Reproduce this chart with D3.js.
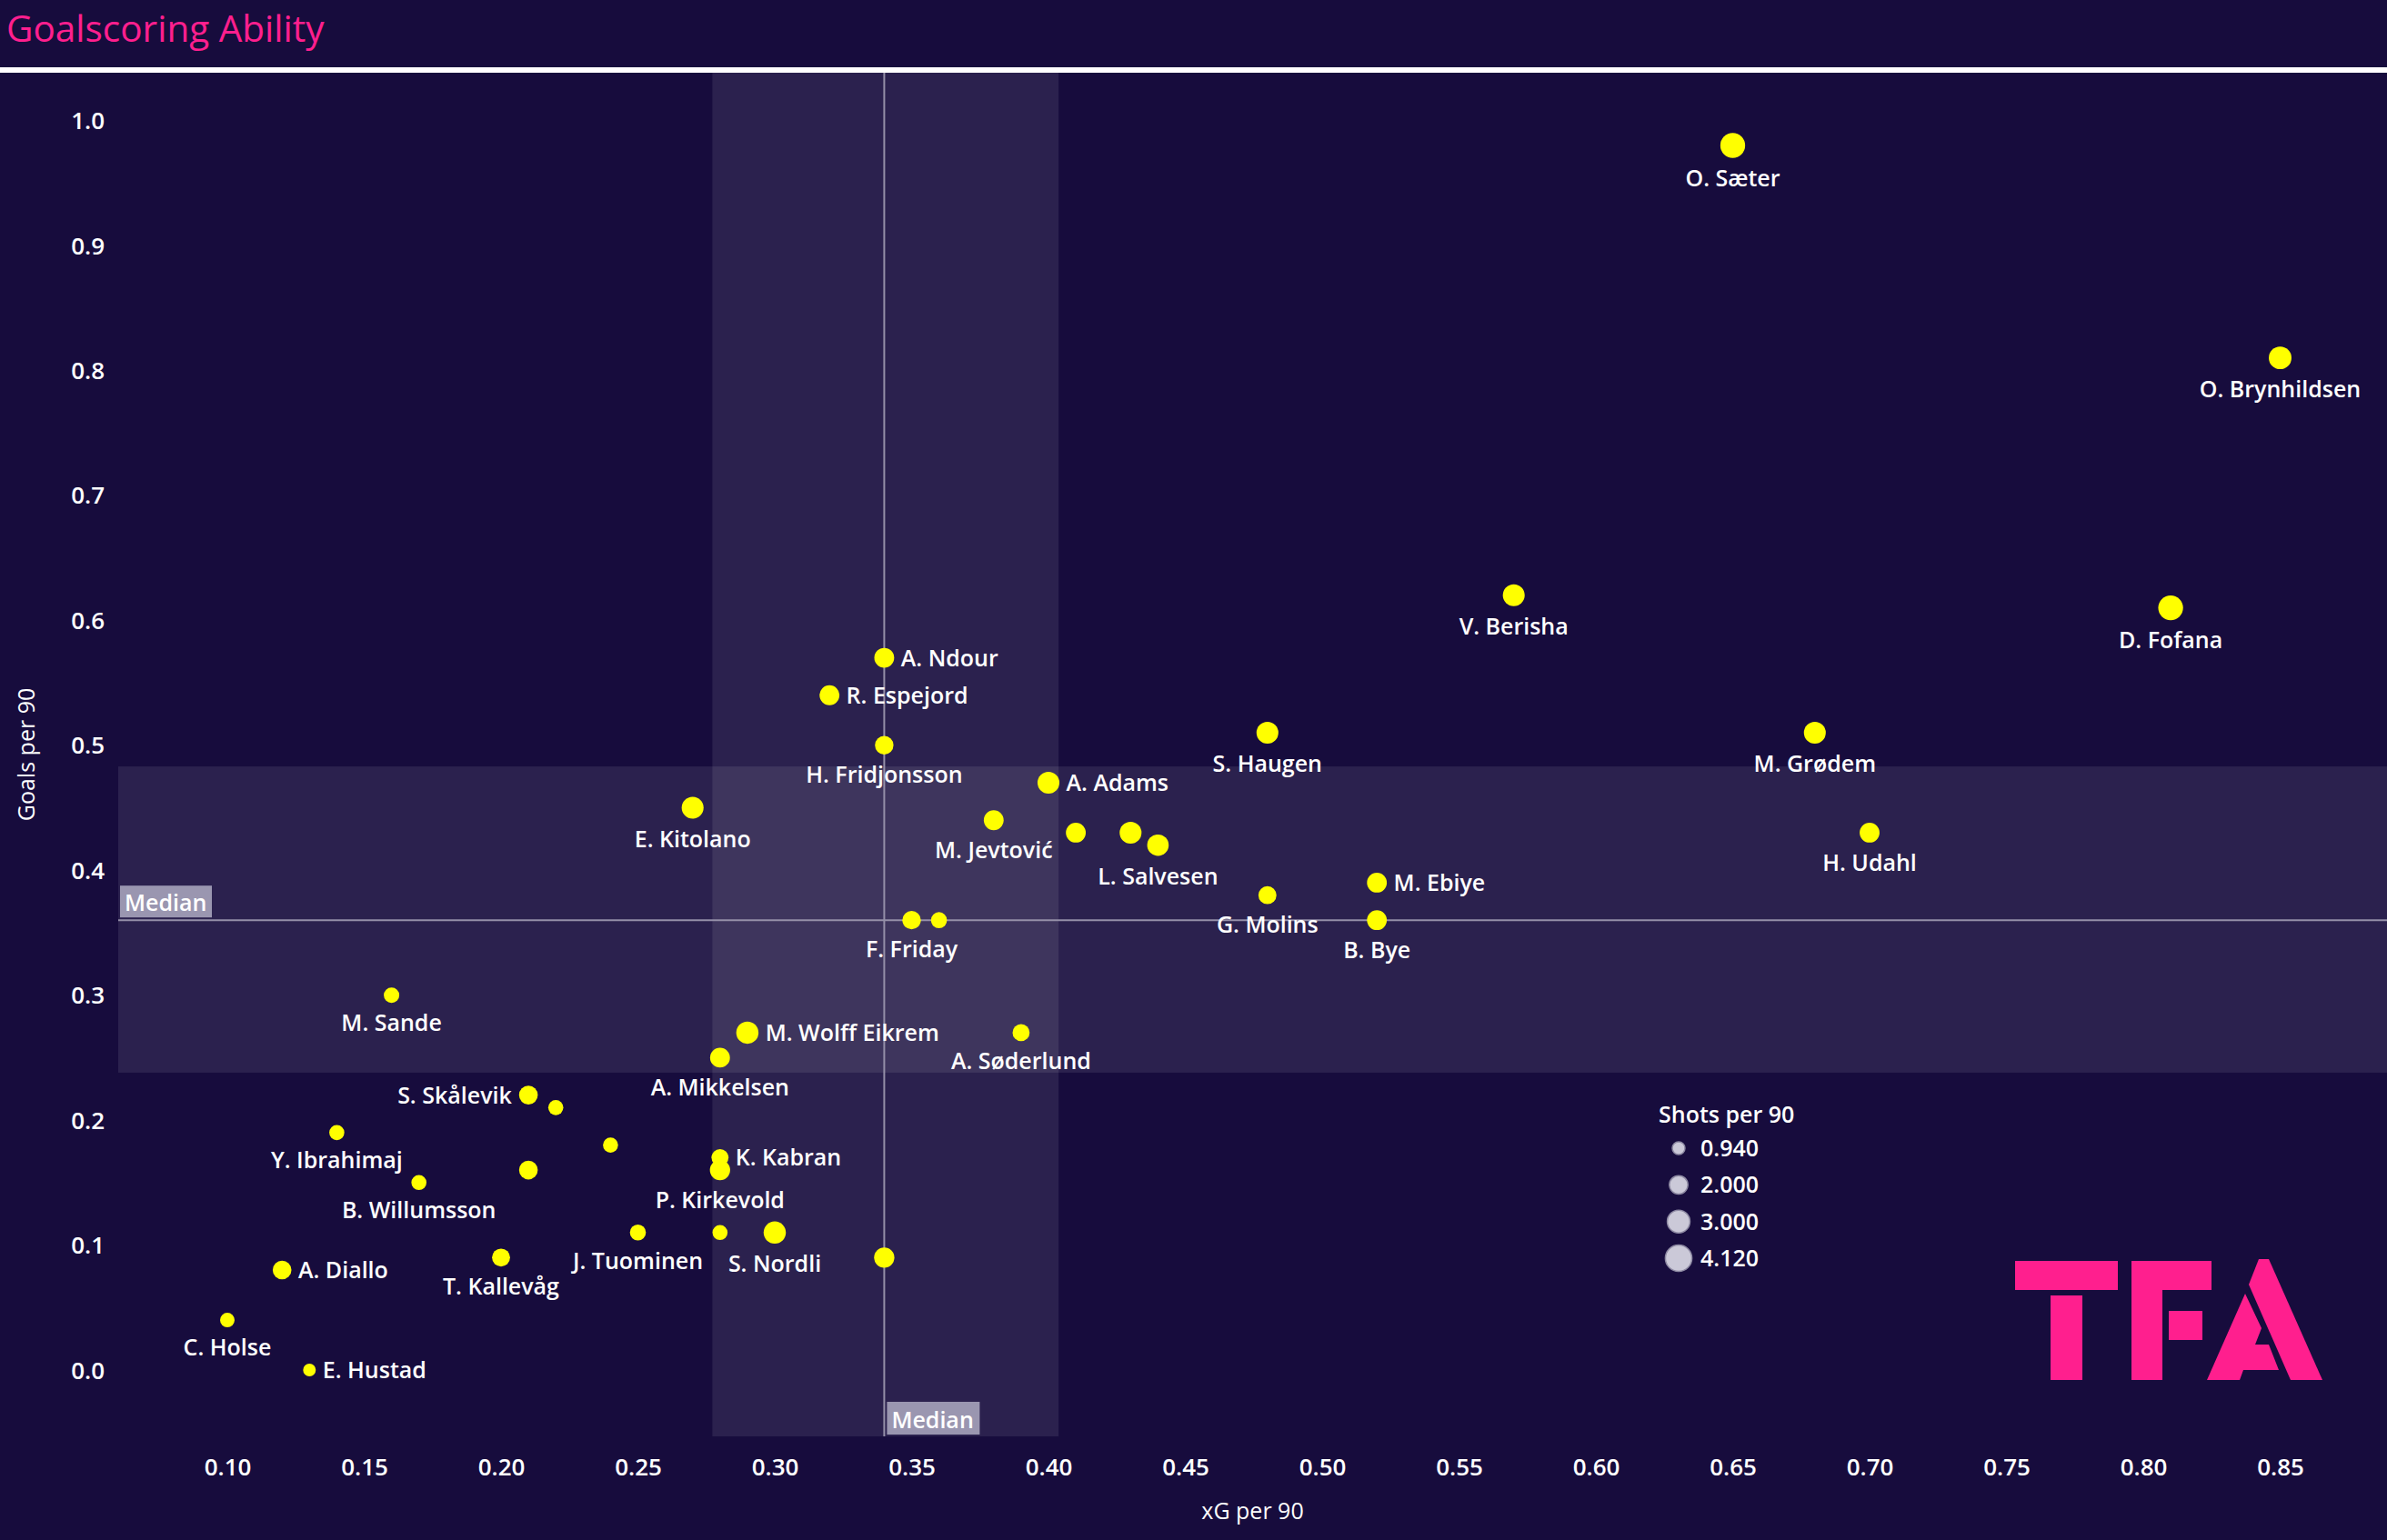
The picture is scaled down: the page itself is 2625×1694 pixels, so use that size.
<!DOCTYPE html>
<html>
<head>
<meta charset="utf-8">
<script src="https://cdn.jsdelivr.net/npm/d3@7"></script>
<style>
  html, body { margin: 0; padding: 0; background: #170c3d; }
  svg { display: block; }
  text { font-family: "Open Sans", "Noto Sans", sans-serif; }
</style>
</head>
<body>
<svg id="chart" width="2625" height="1694"></svg>
<script>
// ---------- DATA ----------
const players = ["O. Sæter","O. Brynhildsen","D. Fofana","V. Berisha","M. Grødem","H. Udahl","S. Haugen","M. Ebiye","B. Bye","G. Molins",
  "L. Salvesen","","","A. Adams","M. Jevtović","A. Ndour","R. Espejord","H. Fridjonsson","E. Kitolano","F. Friday",
  "","A. Søderlund","M. Wolff Eikrem","A. Mikkelsen","M. Sande","S. Skålevik","","","Y. Ibrahimaj","B. Willumsson",
  "","K. Kabran","P. Kirkevold","J. Tuominen","","S. Nordli","","T. Kallevåg","A. Diallo","C. Holse","E. Hustad"];
const xgPer90 = [0.65,0.85,0.81,0.57,0.68,0.70,0.48,0.52,0.52,0.48,
  0.44,0.43,0.41,0.40,0.38,0.34,0.32,0.34,0.27,0.35,
  0.36,0.39,0.29,0.28,0.16,0.21,0.22,0.24,0.14,0.17,
  0.21,0.28,0.28,0.25,0.28,0.30,0.34,0.20,0.12,0.10,0.13];
const goalsPer90 = [0.98,0.81,0.61,0.62,0.51,0.43,0.51,0.39,0.36,0.38,
  0.42,0.43,0.43,0.47,0.44,0.57,0.54,0.50,0.45,0.36,
  0.36,0.27,0.27,0.25,0.30,0.22,0.21,0.18,0.19,0.15,
  0.16,0.17,0.16,0.11,0.11,0.11,0.09,0.09,0.08,0.04,0.00];
const shotsPer90 = [3.6,3.0,3.6,2.8,2.8,2.3,2.8,2.3,2.3,1.9,
  2.7,2.8,2.3,2.8,2.3,2.3,2.3,2.0,2.8,2.0,
  1.5,1.7,2.9,2.3,1.4,2.05,1.33,1.33,1.33,1.33,
  2.05,1.7,2.4,1.5,1.33,2.9,2.4,1.9,2.05,1.23,0.94];
const labelSide = ["below","below","below","below","below","below","below","right","below","below",
  "below","none","none","right","below","right","right","below","below","below",
  "none","below","right","below","below","left","none","none","below","below",
  "none","right","below","below","none","below","none","below","right","below","right"];

const xTicks = [0.10,0.15,0.20,0.25,0.30,0.35,0.40,0.45,0.50,0.55,0.60,0.65,0.70,0.75,0.80,0.85];
const yTicks = [0.0,0.1,0.2,0.3,0.4,0.5,0.6,0.7,0.8,0.9,1.0];
const legendValues = [0.940, 2.000, 3.000, 4.120];

const medianX = 0.34, medianY = 0.36;
const bandX = [0.2772, 0.4037];
const bandY = [0.238, 0.483];

const titleText = "Goalscoring Ability";
const xTitle = "xG per 90";
const yTitle = "Goals per 90";
const legendTitle = "Shots per 90";

// ---------- LAYOUT ----------
const W = 2625, H = 1694;
const plotLeft = 130, plotRight = 2625, plotTop = 80, plotBottom = 1580;
const pink = "#ff1f8e";
const svg = d3.select("#chart");

svg.append("rect").attr("width", W).attr("height", H).attr("fill", "#170c3d");

const x = d3.scaleLinear().domain([0.10, 0.85]).range([250, 2507.5]);
const y = d3.scaleLinear().domain([0, 1]).range([1507, 132.5]);
const r = d3.scaleSqrt().domain([0, 4.12]).range([0, 14.6]);

// title + rule
svg.append("text").attr("x", 7).attr("y", 46).attr("fill", pink)
  .attr("font-size", 40.5).attr("font-weight", 400).text(titleText);
svg.append("rect").attr("x", 0).attr("y", 74).attr("width", W).attr("height", 6).attr("fill", "#ffffff");

// bands
const band = svg.append("g");
band.append("rect").attr("x", plotLeft).attr("width", plotRight - plotLeft)
  .attr("y", y(bandY[1])).attr("height", y(bandY[0]) - y(bandY[1]))
  .attr("fill", "#ffffff").attr("fill-opacity", 0.09);
band.append("rect").attr("x", x(bandX[0])).attr("width", x(bandX[1]) - x(bandX[0]))
  .attr("y", plotTop).attr("height", plotBottom - plotTop)
  .attr("fill", "#ffffff").attr("fill-opacity", 0.09);

// median lines
svg.append("line").attr("x1", plotLeft).attr("x2", plotRight)
  .attr("y1", y(medianY)).attr("y2", y(medianY))
  .attr("stroke", "#958fa8").attr("stroke-width", 2);
svg.append("line").attr("x1", x(medianX)).attr("x2", x(medianX))
  .attr("y1", plotTop).attr("y2", plotBottom)
  .attr("stroke", "#958fa8").attr("stroke-width", 2);

// median labels
const mh = svg.append("g").attr("transform", `translate(${plotLeft + 2},${y(medianY) - 38})`);
mh.append("rect").attr("width", 101).attr("height", 35).attr("fill", "#9a96b0");
mh.append("text").attr("x", 5).attr("y", 28).attr("fill", "#fff").attr("font-size", 25).attr("font-weight", 600).text("Median");
const mv = svg.append("g").attr("transform", `translate(${x(medianX) + 3},${plotBottom - 38})`);
mv.append("rect").attr("width", 102).attr("height", 36).attr("fill", "#9a96b0");
mv.append("text").attr("x", 5).attr("y", 29).attr("fill", "#fff").attr("font-size", 25).attr("font-weight", 600).text("Median");

// axes
const xAxis = svg.append("g").attr("transform", "translate(0,1623)")
  .call(d3.axisBottom(x).tickValues(xTicks).tickFormat(d3.format(".2f")).tickSize(0).tickPadding(0));
xAxis.select(".domain").remove();
xAxis.selectAll("text").attr("dy", null).attr("y", 0)
  .attr("fill", "#ffffff").attr("font-size", 26).attr("font-weight", 600)
  .attr("font-family", "'Open Sans', sans-serif");

const yAxis = svg.append("g").attr("transform", "translate(115,0)")
  .call(d3.axisLeft(y).tickValues(yTicks).tickFormat(d3.format(".1f")).tickSize(0).tickPadding(0));
yAxis.select(".domain").remove();
yAxis.selectAll("text").attr("dy", "0.35em")
  .attr("fill", "#ffffff").attr("font-size", 26).attr("font-weight", 600)
  .attr("font-family", "'Open Sans', sans-serif");

svg.append("text").attr("x", (plotLeft + plotRight) / 2).attr("y", 1671)
  .attr("text-anchor", "middle").attr("fill", "#fff").attr("font-size", 25).text(xTitle);
svg.append("text").attr("transform", `translate(38,${(plotTop + plotBottom) / 2}) rotate(-90)`)
  .attr("text-anchor", "middle").attr("fill", "#fff").attr("font-size", 25).text(yTitle);

// points
const data = players.map((n, i) => ({ name: n, xg: xgPer90[i], g: goalsPer90[i], s: shotsPer90[i], side: labelSide[i] }));
svg.append("g").selectAll("circle").data(data).join("circle")
  .attr("cx", d => x(d.xg)).attr("cy", d => y(d.g)).attr("r", d => r(d.s))
  .attr("fill", "#ffff00");

svg.append("g").selectAll("text").data(data.filter(d => d.side !== "none")).join("text")
  .attr("fill", "#ffffff").attr("font-size", 25).attr("font-weight", 600)
  .attr("x", d => d.side === "right" ? x(d.xg) + r(d.s) + 7.5 : d.side === "left" ? x(d.xg) - r(d.s) - 8 : x(d.xg))
  .attr("y", d => d.side === "below" ? y(d.g) + r(d.s) + 31 : y(d.g) + 9)
  .attr("text-anchor", d => d.side === "right" ? "start" : d.side === "left" ? "end" : "middle")
  .text(d => d.name);

// legend
const lg = svg.append("g");
lg.append("text").attr("x", 1824).attr("y", 1235).attr("fill", "#fff").attr("font-size", 25).attr("font-weight", 600).text(legendTitle);
const ly = d3.scalePoint().domain(legendValues).range([1263, 1384]);
lg.selectAll("circle").data(legendValues).join("circle")
  .attr("cx", 1846).attr("cy", d => ly(d)).attr("r", d => r(d))
  .attr("fill", "#cbc9d8").attr("stroke", "#8e8aa3").attr("stroke-width", 1.5);
lg.selectAll("text.lv").data(legendValues).join("text").attr("class", "lv")
  .attr("x", 1870).attr("y", d => ly(d) + 9).attr("fill", "#fff").attr("font-size", 25).attr("font-weight", 600)
  .text(d => d3.format(".3f")(d));

// TFA logo
const logo = svg.append("g").attr("fill", pink);
const shapes = [
  [[2216,1387],[2329,1387],[2329,1419],[2216,1419]],
  [[2255,1425],[2290,1425],[2290,1518],[2255,1518]],
  [[2344,1387],[2432,1387],[2432,1419],[2378,1419],[2378,1518],[2344,1518]],
  [[2385,1442],[2422,1442],[2422,1474],[2385,1474]],
  [[2484,1385],[2495,1385],[2554,1518],[2519,1518],[2473,1413]],
  [[2469,1423],[2487,1461],[2480,1479],[2495,1479],[2506,1507],[2467,1507],[2463,1518],[2427,1518]]
];
logo.selectAll("path").data(shapes).join("path").attr("d", d => d3.line()(d) + "Z");
</script>
</body>
</html>
